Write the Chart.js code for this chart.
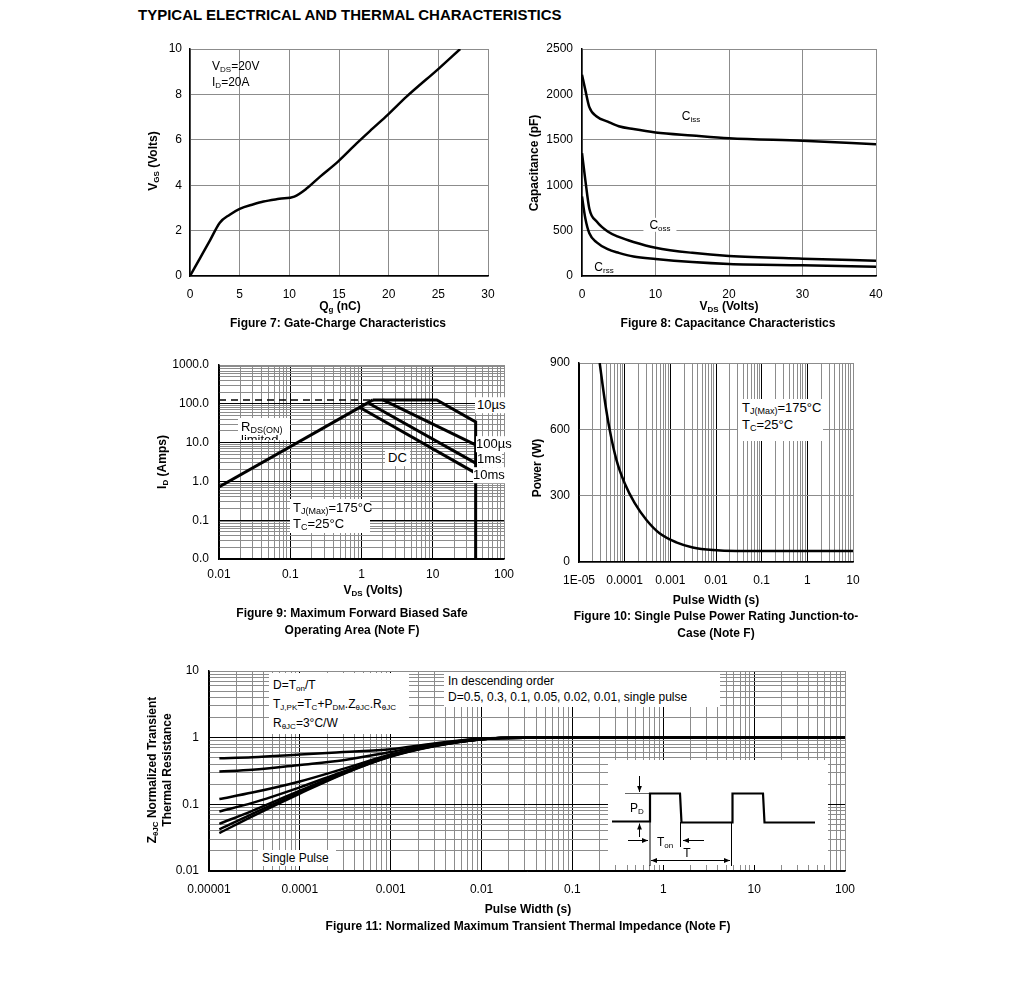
<!DOCTYPE html>
<html>
<head>
<meta charset="utf-8">
<script src="https://cdn.jsdelivr.net/npm/chart.js@4"></script>
<style>
  body { margin:0; background:#fff; font-family:"Liberation Sans", Arial, sans-serif; color:#000; }
  #page { position:relative; width:1020px; height:1001px; overflow:hidden; background:#fff; }
  .plot { position:absolute; }
  .t { position:absolute; white-space:nowrap; font-size:12px; line-height:1.2; }
  .b { font-weight:bold; }
  .c { transform:translate(-50%,-50%); text-align:center; }
  .l { transform:translateY(-50%); }
  .r { transform:translate(-50%,-50%) rotate(-90deg); text-align:center; }
  .w { background:#fff; }
  sub { font-size:8px; vertical-align:-2px; line-height:0; }
  .big { font-size:13px; }
  .big sub { font-size:9px; }
  svg { position:absolute; left:0; top:0; }
</style>
</head>
<body>
<div id="page">
  <div class="t b" style="left:138px; top:6px; font-size:15px;">TYPICAL ELECTRICAL AND THERMAL CHARACTERISTICS</div>

  <div class="plot" id="fig7"><canvas></canvas></div>
  <div class="plot" id="fig8"><canvas></canvas></div>
  <div class="plot" id="fig9"><canvas></canvas></div>
  <div class="plot" id="fig10"><canvas></canvas></div>
  <div class="plot" id="fig11"><canvas></canvas></div>

  <svg width="1020" height="1001">
    <defs>
      <marker id="ah" viewBox="0 0 10 10" refX="10" refY="5" markerWidth="6" markerHeight="6" orient="auto-start-reverse">
        <path d="M0,1 L10,5 L0,9 z" fill="#000"/>
      </marker>
    </defs>
    <rect x="608" y="760" width="220" height="105" fill="#fff"/>
    <line x1="625" y1="793.5" x2="650" y2="793.5" stroke="#666" stroke-width="1"/>
    <line x1="650" y1="794" x2="650" y2="866" stroke="#000" stroke-width="1"/>
    <line x1="680.5" y1="822" x2="680.5" y2="847" stroke="#000" stroke-width="1"/>
    <line x1="731.5" y1="822" x2="731.5" y2="866" stroke="#000" stroke-width="1"/>
    <polyline points="612,821.5 650,821.5 650,793.5 680,793.5 681.5,822.5 732.5,822.5 732.5,793.5 763,793.5 764.5,822.5 815,822.5" stroke="#000" stroke-width="2.2" fill="none"/>
    <line x1="639.5" y1="776" x2="639.5" y2="792" stroke="#000" stroke-width="1" marker-end="url(#ah)"/>
    <line x1="639.5" y1="837" x2="639.5" y2="823.5" stroke="#000" stroke-width="1" marker-end="url(#ah)"/>
    <line x1="628" y1="840.5" x2="648" y2="840.5" stroke="#000" stroke-width="1" marker-end="url(#ah)"/>
    <line x1="704" y1="840.5" x2="683" y2="840.5" stroke="#000" stroke-width="1" marker-end="url(#ah)"/>
    <line x1="651" y1="860.5" x2="730" y2="860.5" stroke="#000" stroke-width="1" marker-start="url(#ah)" marker-end="url(#ah)"/>
  </svg>

  <!-- Figure 7 -->
  <div class="t l" style="left:212px; top:66px;">V<sub>DS</sub>=20V</div>
  <div class="t l" style="left:212px; top:82px;">I<sub>D</sub>=20A</div>
  <div class="t b c" style="left:340px; top:306px;">Q<sub>g</sub> (nC)</div>
  <div class="t b r" style="left:153px; top:161px;">V<sub>GS</sub> (Volts)</div>
  <div class="t b c" style="left:338px; top:323px;">Figure 7: Gate-Charge Characteristics</div>

  <!-- Figure 8 -->
  <div class="t c" style="left:691px; top:116px;">C<sub>iss</sub></div>
  <div class="t c w" style="left:660px; top:225px; padding:0 6px;">C<sub>oss</sub></div>
  <div class="t c" style="left:604px; top:267px;">C<sub>rss</sub></div>
  <div class="t b c" style="left:729px; top:306px;">V<sub>DS</sub> (Volts)</div>
  <div class="t b r" style="left:534px; top:163px;">Capacitance (pF)</div>
  <div class="t b c" style="left:728px; top:323px;">Figure 8: Capacitance Characteristics</div>

  <!-- Figure 9 -->
  <div class="t w big" style="left:238px; top:418px; width:52px; height:22px; overflow:hidden; line-height:13px; padding:2px 0 0 3px; box-sizing:border-box;">R<sub>DS(ON)</sub><br>limited</div>
  <div class="t w big" style="left:290px; top:499px; width:80px; height:34px; line-height:16px; padding:1px 0 0 3px; box-sizing:border-box;">T<sub>J(Max)</sub>=175°C<br>T<sub>C</sub>=25°C</div>
  <div class="t w big l" style="left:475px; top:405px; padding:0 2px;">10µs</div>
  <div class="t w big l" style="left:476px; top:444px;">100µs</div>
  <div class="t w big l" style="left:477px; top:459px;">1ms</div>
  <div class="t w big l" style="left:473px; top:475px;">10ms</div>
  <div class="t w big l" style="left:385px; top:458px; padding:0 3px;">DC</div>
  <div class="t b c" style="left:373px; top:590px;">V<sub>DS</sub> (Volts)</div>
  <div class="t b r" style="left:162px; top:462px;">I<sub>D</sub> (Amps)</div>
  <div class="t b c" style="left:352px; top:622px; line-height:17px;">Figure 9: Maximum Forward Biased Safe<br>Operating Area (Note F)</div>

  <!-- Figure 10 -->
  <div class="t w big" style="left:738px; top:399px; width:85px; height:42px; line-height:17px; padding:0 0 0 4px; box-sizing:border-box;">T<sub>J(Max)</sub>=175°C<br>T<sub>C</sub>=25°C</div>
  <div class="t b c" style="left:716px; top:600px;">Pulse Width (s)</div>
  <div class="t b r" style="left:537px; top:468px;">Power (W)</div>
  <div class="t b c" style="left:716px; top:625px; line-height:17px;">Figure 10: Single Pulse Power Rating Junction-to-<br>Case (Note F)</div>

  <!-- Figure 11 -->
  <div class="t w" style="left:269px; top:673px; width:140px; height:61px; padding:3px 0 0 4px; box-sizing:border-box; line-height:19px;">D=T<sub>on</sub>/T<br>T<sub>J,PK</sub>=T<sub>C</sub>+P<sub>DM</sub>.Z<sub>θJC</sub>.R<sub>θJC</sub><br>R<sub>θJC</sub>=3°C/W</div>
  <div class="t w" style="left:444px; top:672px; width:276px; height:35px; padding:1px 0 0 4px; box-sizing:border-box; line-height:16px;">In descending order<br>D=0.5, 0.3, 0.1, 0.05, 0.02, 0.01, single pulse</div>
  <div class="t w" style="left:258px; top:850px; width:78px; height:16px; padding:1px 0 0 4px; box-sizing:border-box; line-height:14px;">Single Pulse</div>
  <div class="t c" style="left:637px; top:808px;">P<sub>D</sub></div>
  <div class="t c" style="left:665px; top:842px;">T<sub>on</sub></div>
  <div class="t c" style="left:687px; top:853px;">T</div>
  <div class="t b c" style="left:528px; top:909px;">Pulse Width (s)</div>
  <div class="t b r" style="left:160px; top:770px; line-height:15px;">Z<sub>θJC</sub> Normalized Transient<br>Thermal Resistance</div>
  <div class="t b c" style="left:528px; top:926px;">Figure 11: Normalized Maximum Transient Thermal Impedance (Note F)</div>
</div>

<script>
// Figure 7: gate charge
const gcQ = [0, 1, 2, 3.0, 4.0, 5.0, 6.4, 7.4, 9.0, 10.5, 11.7, 13.1, 14.9, 16.8, 18.4, 19.9, 21.8, 25.1, 27.2];
const gcV = [0, 0.78, 1.56, 2.35, 2.7, 2.96, 3.16, 3.28, 3.4, 3.5, 3.84, 4.38, 5.04, 5.85, 6.5, 7.1, 7.9, 9.16, 10];

// Figure 8: capacitance
const capV = [0, 0.45, 1.0, 2, 3.5, 5, 7, 10, 15, 20, 30, 40];
const ciss = [2217, 2050, 1860, 1757, 1700, 1650, 1618, 1581, 1548, 1518, 1489, 1452];
const coss = [1353, 1059, 740, 600, 490, 430, 375, 312, 255, 220, 191, 169];
const crss = [875, 636, 470, 371, 295, 255, 215, 187, 153, 132, 118, 103];

// Figure 9: safe operating area
const soaXTicks = [0.01, 0.1, 1, 10, 100];
const soaXLabels = ['0.01', '0.1', '1', '10', '100'];
const soaYTicks = [0.01, 0.1, 1, 10, 100, 1000];
const soaYLabels = ['0.0', '0.1', '1.0', '10.0', '100.0', '1000.0'];
const rdsV = [0.01, 1.45];
const rdsI = [0.72, 126];
const limV = [0.01, 1.45];
const limI = [126, 126];
const us10V = [1.45, 11.4, 40, 40];
const us10I = [126, 126, 34, 0.01];
const us100V = [2.0, 40];
const us100I = [126, 8.7];
const ms1V = [1.25, 40];
const ms1I = [105, 2.95];
const ms10V = [0.95, 40];
const ms10I = [80, 1.63];

// Figure 10: single pulse power
const pwXTicks = [1e-5, 1e-4, 1e-3, 1e-2, 1e-1, 1, 10];
const pwXLabels = ['1E-05', '0.0001', '0.001', '0.01', '0.1', '1', '10'];
const pwT = [2.84e-5, 3.65e-5, 4.7e-5, 6.6e-5, 1.0e-4, 1.66e-4, 3.0e-4, 5.8e-4, 1.35e-3, 3.1e-3, 8.6e-3, 0.028, 10];
const pwP = [900, 734, 598, 462, 356, 266, 190, 130, 89, 66, 54, 50, 50];

// Figure 11: transient thermal impedance
const ztXTicks = [1e-5, 1e-4, 1e-3, 1e-2, 1e-1, 1, 10, 100];
const ztXLabels = ['0.00001', '0.0001', '0.001', '0.01', '0.1', '1', '10', '100'];
const ztYTicks = [0.01, 0.1, 1, 10];
const ztYLabels = ['0.01', '0.1', '1', '10'];
const ztT = [1.3e-5, 3e-5, 1e-4, 3e-4, 1e-3, 3e-3, 0.01, 0.03, 100];
const zD05 = [0.49, 0.51, 0.56, 0.61, 0.67, 0.82, 0.97, 1.0, 1.0];
const zD03 = [0.31, 0.33, 0.39, 0.46, 0.61, 0.79, 0.96, 1.0, 1.0];
const zD01 = [0.12, 0.15, 0.22, 0.34, 0.56, 0.77, 0.95, 1.0, 1.0];
const zD005 = [0.078, 0.105, 0.18, 0.31, 0.54, 0.76, 0.95, 1.0, 1.0];
const zD002 = [0.051, 0.08, 0.16, 0.295, 0.53, 0.755, 0.95, 1.0, 1.0];
const zD001 = [0.042, 0.072, 0.15, 0.29, 0.525, 0.75, 0.95, 1.0, 1.0];
const zSingle = [0.037, 0.066, 0.145, 0.285, 0.52, 0.745, 0.95, 1.0, 1.0];

Chart.defaults.font.family = '"Liberation Sans", Arial, sans-serif';
Chart.defaults.color = '#000';
const gridGray = '#8c8c8c';

function pts(xs, ys) { return xs.map((x, i) => ({ x: x, y: ys[i] })); }

function line(xs, ys, w, extra) {
  return Object.assign({ data: pts(xs, ys), borderColor: '#000', borderWidth: w, showLine: true,
    pointRadius: 0, fill: false, tension: 0 }, extra || {});
}

function smooth(xs, ys, w) {
  return line(xs, ys, w, { cubicInterpolationMode: 'monotone' });
}

function linAxis(min, max, step, pad) {
  return {
    type: 'linear', min: min, max: max, bounds: 'data',
    ticks: { stepSize: step, padding: pad, font: { size: 12 }, maxRotation: 0, autoSkip: false,
      callback: v => String(v) },
    grid: { color: gridGray, lineWidth: 1, drawTicks: false },
    border: { color: '#000', width: 1.5 }
  };
}

function logTicks(decades) {
  const out = [];
  for (let i = 0; i < decades.length - 1; i++) {
    for (let d = 1; d < 10; d++) out.push({ value: +(decades[i] * d).toPrecision(6), major: d === 1 });
  }
  out.push({ value: decades[decades.length - 1], major: true });
  return out;
}

function logAxis(decades, labels, pad) {
  const list = logTicks(decades);
  return {
    type: 'logarithmic', min: decades[0], max: decades[decades.length - 1], bounds: 'data',
    afterBuildTicks: s => { s.ticks = list.map(t => ({ value: t.value, major: t.major })); },
    ticks: { padding: pad, autoSkip: false, maxRotation: 0, font: { size: 12 },
      callback: v => {
        const k = decades.findIndex(d => Math.abs(d - v) <= d * 1e-6);
        return k >= 0 ? labels[k] : '';
      } },
    grid: { drawTicks: false, lineWidth: 1,
      color: c => (c.tick && c.tick.major && c.index < list.length - 1) ? '#000' : gridGray },
    border: { color: '#000', width: 1.5 }
  };
}

function build(id, box, xs, ys, datasets) {
  const [l, t, r, b] = box;
  const wrap = document.getElementById(id);
  wrap.style.left = (l - 70) + 'px';
  wrap.style.top = (t - 12) + 'px';
  wrap.style.width = (r - l + 95) + 'px';
  wrap.style.height = (b - t + 42) + 'px';
  xs.afterFit = s => { s.height = 30; s.paddingLeft = 0; s.paddingRight = 0; };
  ys.afterFit = s => { s.width = 70; s.paddingTop = 0; s.paddingBottom = 0; };
  new Chart(wrap.querySelector('canvas'), {
    type: 'scatter',
    data: { datasets: datasets },
    options: {
      responsive: true, maintainAspectRatio: false, animation: false,
      layout: { padding: { left: 0, top: 12, right: 25, bottom: 0 } },
      plugins: { legend: { display: false }, tooltip: { enabled: false } },
      scales: { x: xs, y: ys }
    }
  });
}

build('fig7', [190, 49, 488, 276], linAxis(0, 30, 5, 11), linAxis(0, 10, 2, 8),
  [smooth(gcQ, gcV, 2.5)]);

build('fig8', [582, 49, 876, 276], linAxis(0, 40, 10, 11), linAxis(0, 2500, 500, 9),
  [smooth(capV, ciss, 2.5), smooth(capV, coss, 2.5), smooth(capV, crss, 2.5)]);

build('fig9', [219, 365, 504, 559], logAxis(soaXTicks, soaXLabels, 8), logAxis(soaYTicks, soaYLabels, 10), [
  line(limV, limI, 1.5, { borderDash: [7, 5] }),
  line(rdsV, rdsI, 3),
  line(us10V, us10I, 3),
  line(us100V, us100I, 3),
  line(ms1V, ms1I, 3),
  line(ms10V, ms10I, 3)
]);

const fig10y = linAxis(0, 900, 300, 9);
build('fig10', [579, 363, 853, 562], logAxis(pwXTicks, pwXLabels, 11), fig10y,
  [smooth(pwT, pwP, 2.5)]);

build('fig11', [209, 671, 845, 871], logAxis(ztXTicks, ztXLabels, 11), logAxis(ztYTicks, ztYLabels, 10), [
  smooth(ztT, zD05, 2.5), smooth(ztT, zD03, 2.5), smooth(ztT, zD01, 2.5), smooth(ztT, zD005, 2.5),
  smooth(ztT, zD002, 2.5), smooth(ztT, zD001, 2.5), smooth(ztT, zSingle, 2.5)
]);
</script>
</body>
</html>
